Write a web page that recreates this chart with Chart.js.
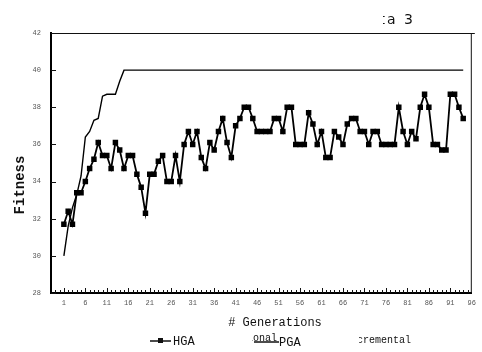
<!DOCTYPE html>
<html>
<head>
<meta charset="utf-8">
<script src="https://cdn.jsdelivr.net/npm/chart.js@4/dist/chart.umd.min.js"></script>
<style>
  html, body { margin: 0; padding: 0; background: #fff; }
  canvas { display: block; }
</style>
</head>
<body>
<canvas id="fitnessChart" width="482" height="352"></canvas>
<script>
/************************ DATA ************************** */
const generations = Array.from({ length: 94 }, (_, i) => i + 1);

const hgaValues = [
  31.7, 32.4, 31.7, 33.4, 33.4, 34.0, 34.7, 35.2, 36.1, 35.4,
  35.4, 34.7, 36.1, 35.7, 34.7, 35.4, 35.4, 34.4, 33.7, 32.3,
  34.4, 34.4, 35.1, 35.4, 34.0, 34.0, 35.4, 34.0, 36.0, 36.7,
  36.0, 36.7, 35.3, 34.7, 36.1, 35.7, 36.7, 37.4, 36.1, 35.3,
  37.0, 37.4, 38.0, 38.0, 37.4, 36.7, 36.7, 36.7, 36.7, 37.4,
  37.4, 36.7, 38.0, 38.0, 36.0, 36.0, 36.0, 37.7, 37.1, 36.0,
  36.7, 35.3, 35.3, 36.7, 36.4, 36.0, 37.1, 37.4, 37.4, 36.7,
  36.7, 36.0, 36.7, 36.7, 36.0, 36.0, 36.0, 36.0, 38.0, 36.7,
  36.0, 36.7, 36.3, 38.0, 38.7, 38.0, 36.0, 36.0, 35.7, 35.7,
  38.7, 38.7, 38.0, 37.4,
];

const pgaValues = [
  30.0, 31.6, 32.6, 33.3, 34.3, 36.4, 36.7, 37.3, 37.4, 38.6,
  38.7, 38.7, 38.7, 39.4, 40.0, 40.0, 40.0, 40.0, 40.0, 40.0,
  40.0, 40.0, 40.0, 40.0, 40.0, 40.0, 40.0, 40.0, 40.0, 40.0,
  40.0, 40.0, 40.0, 40.0, 40.0, 40.0, 40.0, 40.0, 40.0, 40.0,
  40.0, 40.0, 40.0, 40.0, 40.0, 40.0, 40.0, 40.0, 40.0, 40.0,
  40.0, 40.0, 40.0, 40.0, 40.0, 40.0, 40.0, 40.0, 40.0, 40.0,
  40.0, 40.0, 40.0, 40.0, 40.0, 40.0, 40.0, 40.0, 40.0, 40.0,
  40.0, 40.0, 40.0, 40.0, 40.0, 40.0, 40.0, 40.0, 40.0, 40.0,
  40.0, 40.0, 40.0, 40.0, 40.0, 40.0, 40.0, 40.0, 40.0, 40.0,
  40.0, 40.0, 40.0, 40.0,
];

const xTickValues = [1, 6, 11, 16, 21, 26, 31, 36, 41, 46, 51, 56, 61, 66, 71, 76, 81, 86, 91, 96];
const yTickValues = [28, 30, 32, 34, 36, 38, 40, 42];

/************************ PLUGINS ************************** */
const MONO = '"Liberation Mono", "DejaVu Sans Mono", monospace';

// frame on top/right, small inward ticks, titles and the (scan-cut) legend
const framePlugin = {
  id: "framePlugin",
  beforeDatasetsDraw(chart) {
    const { ctx, chartArea: a, scales } = chart;
    ctx.save();
    ctx.strokeStyle = "#111";
    ctx.lineWidth = 1;
    ctx.beginPath();
    ctx.moveTo(a.left, a.top + 0.5);
    ctx.lineTo(a.right + 3, a.top + 0.5);
    ctx.moveTo(a.right - 0.5, a.top);
    ctx.lineTo(a.right - 0.5, a.bottom);
    ctx.stroke();

    // x minor / major ticks
    ctx.beginPath();
    for (let g = -1; g <= 95; g++) {
      const x = Math.round(scales.x.getPixelForValue(g)) + 0.5;
      const len = (g - 1) % 5 === 0 ? 5 : 3;
      ctx.moveTo(x, a.bottom);
      ctx.lineTo(x, a.bottom - len);
    }
    // y ticks
    yTickValues.forEach((v) => {
      const y = Math.round(scales.y.getPixelForValue(v)) + 0.5;
      ctx.moveTo(a.left, y);
      ctx.lineTo(a.left + 5, y);
    });
    ctx.stroke();
    ctx.restore();
  },
  afterDraw(chart) {
    const { ctx } = chart;
    ctx.save();
    ctx.fillStyle = "#111";
    ctx.strokeStyle = "#111";

    // title, left part lost in the scan
    ctx.save();
    ctx.beginPath();
    ctx.rect(383, 0, 100, 40);
    ctx.clip();
    ctx.font = '14px "DejaVu Sans", sans-serif';
    ctx.letterSpacing = "2px";
    ctx.textAlign = "right";
    ctx.textBaseline = "middle";
    ctx.fillText("Data 3", 415, 20);
    ctx.restore();

    // axis titles
    ctx.font = "12px " + MONO;
    ctx.textAlign = "center";
    ctx.textBaseline = "middle";
    ctx.fillText("# Generations", 275, 323);

    ctx.save();
    ctx.translate(20, 185);
    ctx.rotate(-Math.PI / 2);
    ctx.font = "bold 14px " + MONO;
    ctx.fillText("Fitness", 0, 0);
    ctx.restore();

    // legend
    ctx.lineWidth = 1.5;
    ctx.beginPath();
    ctx.moveTo(150, 341);
    ctx.lineTo(171, 341);
    ctx.stroke();
    ctx.fillRect(158, 338, 5, 5);
    ctx.font = "12px " + MONO;
    ctx.textAlign = "left";
    ctx.fillText("HGA", 173, 342);

    ctx.save();
    ctx.beginPath();
    ctx.rect(252, 325, 30, 25);
    ctx.clip();
    ctx.font = "10px " + MONO;
    ctx.textAlign = "right";
    ctx.textBaseline = "alphabetic";
    ctx.fillText("Conventional", 277, 341);
    ctx.restore();
    ctx.beginPath();
    ctx.moveTo(254, 342);
    ctx.lineTo(279, 342);
    ctx.stroke();
    ctx.font = "12px " + MONO;
    ctx.textBaseline = "middle";
    ctx.fillText("PGA", 279, 343);

    ctx.save();
    ctx.beginPath();
    ctx.rect(359, 325, 70, 25);
    ctx.clip();
    ctx.font = "10px " + MONO;
    ctx.textAlign = "right";
    ctx.textBaseline = "middle";
    ctx.fillText("Incremental", 411, 340);
    ctx.restore();

    ctx.restore();
  },
};

/************************ CHART ************************** */
const ctx = document.getElementById("fitnessChart");

const config = {
  type: "line",
  data: {
    datasets: [
      {
        label: "HGA",
        data: hgaValues.map((v, i) => ({ x: generations[i], y: v })),
        borderColor: "#000",
        backgroundColor: "#000",
        borderWidth: 1.8,
        pointStyle: "rect",
        pointRadius: 2.6,
        tension: 0,
      },
      {
        label: "Conventional PGA",
        data: pgaValues.map((v, i) => ({ x: generations[i], y: v })),
        borderColor: "#000",
        borderWidth: 1.4,
        pointRadius: 0,
        tension: 0,
      },
    ],
  },
  options: {
    responsive: false,
    animation: false,
    layout: {
      padding: { top: 33, right: 3, left: 0, bottom: 0 },
    },
    scales: {
      x: {
        type: "linear",
        min: -2,
        max: 96,
        afterBuildTicks: (scale) => {
          scale.ticks = xTickValues.map((v) => ({ value: v }));
        },
        afterFit: (scale) => {
          scale.height = 59;
        },
        grid: { display: false, drawTicks: false },
        border: { display: true, color: "#000", width: 2 },
        ticks: {
          autoSkip: false,
          maxRotation: 0,
          padding: 6,
          color: "#555",
          font: { family: MONO, size: 7 },
        },
      },
      y: {
        min: 28,
        max: 42,
        afterBuildTicks: (scale) => {
          scale.ticks = yTickValues.map((v) => ({ value: v }));
        },
        afterFit: (scale) => {
          scale.width = 51;
        },
        grid: { display: false, drawTicks: false },
        border: { display: true, color: "#000", width: 2 },
        ticks: {
          padding: 10,
          color: "#555",
          font: { family: MONO, size: 7 },
        },
      },
    },
    plugins: {
      legend: { display: false },
      title: { display: false },
      tooltip: { enabled: false },
    },
  },
  plugins: [framePlugin],
};

const fitnessChart = new Chart(ctx, config);
</script>
</body>
</html>
